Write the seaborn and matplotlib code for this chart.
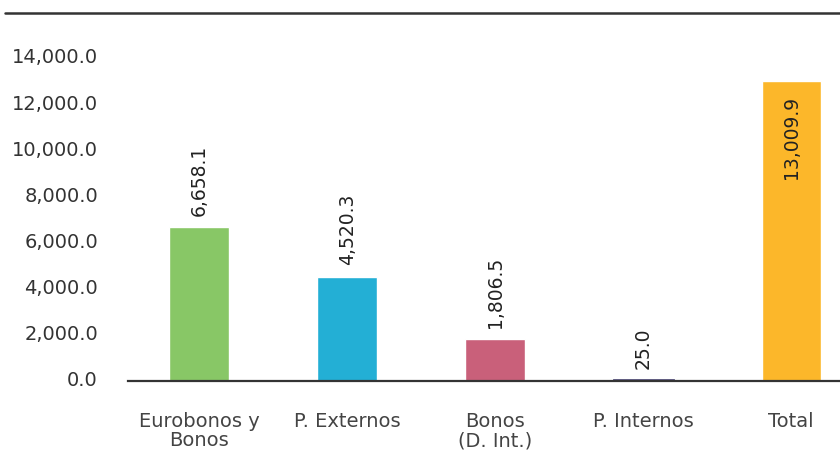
import matplotlib
matplotlib.use("Agg")
import matplotlib.pyplot as plt
import matplotlib.transforms as mtransforms
from matplotlib.lines import Line2D
from matplotlib.ticker import FuncFormatter
import seaborn as sns
import pandas as pd

categories = ["Eurobonos y\nBonos", "P. Externos", "Bonos\n(D. Int.)", "P. Internos", "Total"]
values = [6658.1, 4520.3, 1806.5, 25.0, 13009.9]
value_labels = ["6,658.1", "4,520.3", "1,806.5", "25.0", "13,009.9"]
colors = ["#88C766", "#23AFD5", "#C9607A", "#56527E", "#FCB72A"]
yticks = [0, 2000, 4000, 6000, 8000, 10000, 12000, 14000]

sns.set_theme(style="white")
plt.rcParams["font.family"] = ["DejaVu Sans"]

df = pd.DataFrame({"cat": categories, "val": values})

fig = plt.figure(figsize=(8.4, 4.76), dpi=100)
ax = fig.add_axes([128 / 840, 95 / 476, 1 - 128 / 840, (418 - 95) / 476])

sns.barplot(data=df, x="cat", y="val", hue="cat", palette=colors,
            width=0.4, legend=False, ax=ax, saturation=1)

ax.set_ylim(0, 14000)
ax.set_xlim(-0.48, 4.33)
ax.set_yticks(yticks)
ax.yaxis.set_major_formatter(FuncFormatter(lambda v, p: f"{v:,.1f}"))
ax.set_xlabel("")
ax.set_ylabel("")

for s in ["top", "right", "left"]:
    ax.spines[s].set_visible(False)
ax.spines["bottom"].set_color("#333333")
ax.spines["bottom"].set_linewidth(1.6)

ax.tick_params(axis="y", length=0, pad=21.6, labelsize=14, labelcolor="#333333")
ax.tick_params(axis="x", length=0, pad=22, labelsize=14, labelcolor="#444444")
for lbl in ax.get_yticklabels():
    lbl.set_transform(lbl.get_transform() + mtransforms.ScaledTranslation(0, 1.5 / 72, fig.dpi_scale_trans))
for lbl in ax.get_xticklabels():
    lbl.set_linespacing(1.05)

patches = ax.patches
# the tiny bar is drawn with an outline so it stays visible as a thin line
patches[3].set_edgecolor(colors[3])
patches[3].set_linewidth(2.0)

for i, (p, txt) in enumerate(zip(patches, value_labels)):
    cx = p.get_x() + p.get_width() / 2
    h = p.get_height()
    if i == len(patches) - 1:
        ax.annotate(txt, xy=(cx, h), xytext=(0, -11), textcoords="offset points",
                    rotation=90, ha="center", va="top", fontsize=13.5, color="#222222")
    else:
        ax.annotate(txt, xy=(cx, h), xytext=(0, 8.5), textcoords="offset points",
                    rotation=90, ha="center", va="bottom", fontsize=13.5, color="#222222")

fig.add_artist(Line2D([5 / 840, 1.0], [1 - 13 / 476, 1 - 13 / 476],
                      transform=fig.transFigure, color="#333333", linewidth=1.8))

fig.savefig("out.png", dpi=100)
